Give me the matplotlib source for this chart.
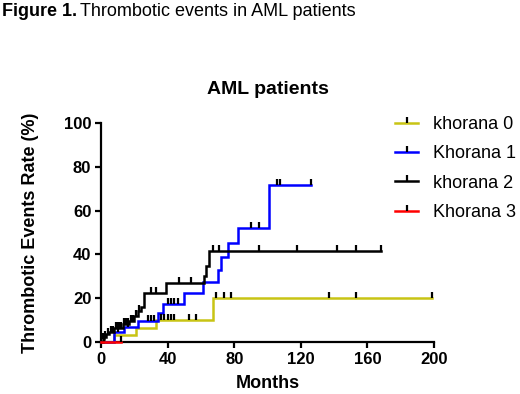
import numpy as np
import matplotlib
matplotlib.use("Agg")
import matplotlib.pyplot as plt
from matplotlib.lines import Line2D

plt.rcParams['font.family'] = ['Liberation Sans', 'DejaVu Sans']

# ---- data ----
labels = ["khorana 0", "Khorana 1", "khorana 2", "Khorana 3"]
colors = ["#C8C414", "#0000FF", "#000000", "#FF0000"]

# khorana 0
k0_times = [0, 8, 21, 33, 67, 199]
k0_rates = [0, 3, 6.5, 10, 20, 20]
k0_censor = [36, 38, 40, 42, 44, 53, 57, 69, 74, 78, 137, 153, 199]

# Khorana 1
k1_times = [0, 8, 14, 22, 34, 37, 50, 61, 70, 72, 76, 82, 101, 126]
k1_rates = [0, 4.5, 7, 9.5, 13.4, 17.5, 22.2, 27.5, 33, 39, 45, 52, 71.5, 71.5]
k1_censor = [10, 16, 28, 30, 32, 40, 42, 44, 46, 90, 95, 106, 107.5, 126]

# khorana 2
k2_times = [0, 1, 2, 3, 5, 8, 13, 17, 20, 22, 24, 26, 39, 62, 63, 65, 168]
k2_rates = [0, 1.5, 2.5, 3.5, 4.7, 6.6, 8.1, 9.6, 11.9, 14.2, 16, 22.5, 27, 30, 34.5, 41.4, 41.4]
k2_censor = [1.5, 2.5, 4, 6, 7, 9, 10, 11, 12, 14, 15, 16, 18, 19, 21, 23, 30, 33,
             47, 54, 67, 71, 95, 118, 142, 153, 168]

# Khorana 3
k3_times = [0, 12]
k3_rates = [0, 0]
k3_censor = [12]

x_ticks = [0, 40, 80, 120, 160, 200]
y_ticks = [0, 20, 40, 60, 80, 100]

series = [(k0_times, k0_rates, k0_censor),
          (k1_times, k1_rates, k1_censor),
          (k2_times, k2_rates, k2_censor),
          (k3_times, k3_rates, k3_censor)]

fig = plt.figure(figsize=(5.2, 3.94), dpi=100)
ax = fig.add_axes([101/520, 1-342/394, 333/520, 219/394])

for (t, r, c), col in zip(series, colors):
    ax.step(t, r, where='post', color=col, lw=1.8, solid_joinstyle='miter', clip_on=False, zorder=3)
    t_arr = np.asarray(t); r_arr = np.asarray(r)
    idx = np.searchsorted(t_arr, c, side='right') - 1
    ax.plot(c, r_arr[idx], linestyle='none', marker=2, ms=4, mew=1.6,
            color='black', clip_on=False, zorder=4)

ax.set_xlim(0, 200)
ax.set_ylim(0, 100)
ax.set_xticks(x_ticks)
ax.set_yticks(y_ticks)
ax.set_xticklabels([str(v) for v in x_ticks], fontweight='bold', fontsize=12)
ax.set_yticklabels([str(v) for v in y_ticks], fontweight='bold', fontsize=12)
for s in ['top', 'right']:
    ax.spines[s].set_visible(False)
for s in ['left', 'bottom']:
    ax.spines[s].set_linewidth(1.6)
ax.tick_params(axis='both', direction='out', length=4, width=1.6, pad=3)

ax.set_xlabel("Months", fontweight='bold', fontsize=13, labelpad=6)
ax.set_ylabel("Thrombotic Events Rate (%)", fontweight='bold', fontsize=13, labelpad=18)
ax.set_title("AML patients", fontweight='bold', fontsize=14, pad=21)

handles = [Line2D([0], [0], color=col, lw=1.8, marker=2, ms=4, mew=1.6,
                  markeredgecolor='black') for col in colors]
fig.legend(handles, labels, loc='upper left', bbox_to_anchor=(395/520, 1-116/394),
           frameon=False, fontsize=13, handlelength=1.3, handletextpad=0.8,
           labelspacing=0.68, borderaxespad=0, borderpad=0, numpoints=1)

t1 = fig.text(2/520, 1-3/394, "Figure 1.", fontsize=13, fontweight='bold', va='top', ha='left')
fig.canvas.draw()
bb = t1.get_window_extent()
fig.text((bb.x1 + 3)/520, 1-3/394, "Thrombotic events in AML patients", fontsize=13,
         va='top', ha='left')

fig.savefig("out.png", dpi=100)
